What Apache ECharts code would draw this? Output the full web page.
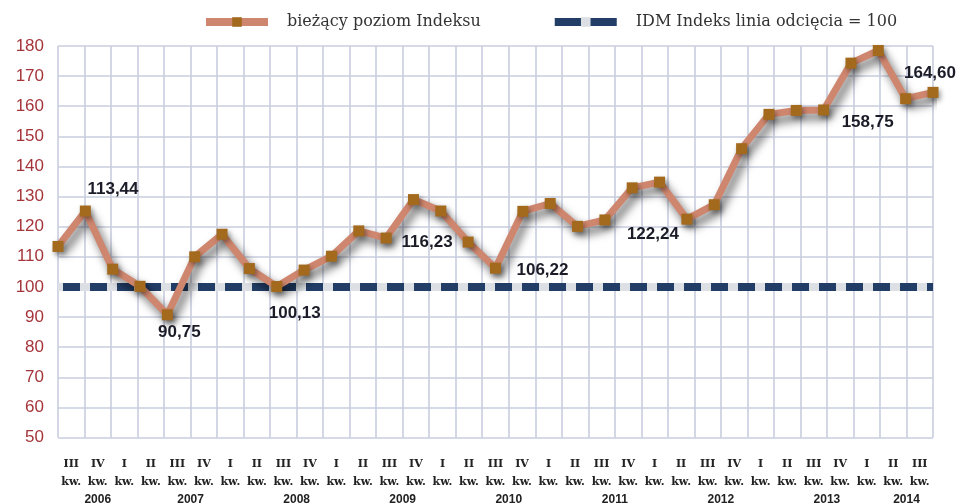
<!DOCTYPE html>
<html>
<head>
<meta charset="utf-8">
<script src="https://cdn.jsdelivr.net/npm/echarts@6/dist/echarts.min.js"></script>
<style>
  html, body { margin: 0; background: #fff; }
  #main { width: 960px; height: 504px; }
</style>
</head>
<body>
<div id="main"></div>
<script>
// kwartały (oś X)
const quarters = ['III','IV',
  'I','II','III','IV', 'I','II','III','IV', 'I','II','III','IV', 'I','II','III','IV',
  'I','II','III','IV', 'I','II','III','IV', 'I','II','III','IV',
  'I','II','III'];
const years = ['2006','2006',
  '2007','2007','2007','2007', '2008','2008','2008','2008', '2009','2009','2009','2009',
  '2010','2010','2010','2010', '2011','2011','2011','2011', '2012','2012','2012','2012',
  '2013','2013','2013','2013', '2014','2014','2014'];
// wartości indeksu
const indexValues = [113.44, 125.2, 105.9, 100.2, 90.75, 110.0, 117.5, 106.1, 100.13, 105.6,
  110.2, 118.6, 116.23, 129.0, 125.2, 114.9, 106.22, 125.1, 127.7, 120.1, 122.24, 132.9,
  134.8, 122.5, 127.3, 145.9, 157.3, 158.6, 158.75, 174.3, 178.5, 162.5, 164.60];
const cutoff = 100;
const seriesNames = ['bieżący poziom Indeksu', 'IDM Indeks linia odcięcia = 100'];
const yMin = 50, yMax = 180, yStep = 10;

// przesunięcia etykiet wartości (kolejne III kwartały)
const annotOffsets = [[55, -57], [12, 18], [18, 27], [41, 4], [47, 2], [48, 14], [0, 0], [44, 12], [-3, -19]];

// gdzie wypisać rok pod osią
const yearAt = {};
(function () {
  const groups = {};
  years.forEach((y, i) => { (groups[y] = groups[y] || []).push(i); });
  for (const y in groups) {
    const idx = groups[y];
    if (quarters[idx[0]] !== 'I') yearAt[idx[idx.length - 1]] = { year: y, shift: false };
    else yearAt[idx[idx.length - 2]] = { year: y, shift: true };
  }
})();

const categories = quarters.map((q, i) => q + ' kw. ' + years[i]);

let annotCount = 0;
const lineData = indexValues.map((v, i) => {
  if (quarters[i] !== 'III') return v;
  const off = annotOffsets[annotCount++] || [0, 0];
  if (i === 24) return v; // 2012 bez etykiety
  return {
    value: v,
    label: {
      show: true,
      position: 'inside',
      offset: off,
      formatter: p => p.value.toFixed(2).replace('.', ','),
      color: '#1c1c28',
      fontFamily: 'Liberation Sans',
      fontWeight: 'bold',
      fontSize: 17
    }
  };
});

const chart = echarts.init(document.getElementById('main'));

const gridColor = '#c9cedf';

const option = {
  backgroundColor: '#fff',
  animation: false,
  legend: {
    top: 14,
    left: 202,
    padding: 0,
    itemWidth: 62,
    itemHeight: 12,
    itemGap: 70,
    textStyle: { fontFamily: 'DejaVu Serif', fontSize: 16, color: '#333', padding: [0, 0, 0, 14] },
    data: [
      { name: seriesNames[0], lineStyle: { width: 8 } },
      { name: seriesNames[1], lineStyle: { width: 8 } }
    ]
  },
  grid: { left: 58, right: 27, top: 46, bottom: 66.5, outerBoundsMode: 'none' },
  xAxis: [
    {
      // punkty danych
      type: 'category',
      data: categories,
      boundaryGap: false,
      axisLine: { show: false },
      axisTick: { show: false },
      splitLine: { show: false },
      axisLabel: { show: false }
    },
    {
      // etykiety kwartałów i pionowa siatka
      type: 'category',
      position: 'bottom',
      data: categories,
      boundaryGap: true,
      axisLine: { show: false },
      axisTick: { show: false },
      splitLine: { show: true, interval: 0, lineStyle: { color: gridColor, width: 1.6 } },
      axisLabel: {
        interval: 0,
        margin: 17,
        formatter: (val, i) => {
          let s = '{q|' + quarters[i] + '}\n{k|kw.}';
          const y = yearAt[i];
          if (y) s += '\n{' + (y.shift ? 'ys' : 'y') + '|' + y.year + '}';
          return s;
        },
        rich: {
          q: { fontFamily: 'DejaVu Serif', fontWeight: 'bold', fontSize: 11, color: '#222', lineHeight: 19 },
          k: { fontFamily: 'DejaVu Serif', fontWeight: 'bold', fontSize: 11, color: '#222', lineHeight: 18 },
          y: { fontFamily: 'Liberation Sans', fontWeight: 'bold', fontSize: 12, color: '#222', lineHeight: 17 },
          ys: { fontFamily: 'Liberation Sans', fontWeight: 'bold', fontSize: 12, color: '#222', lineHeight: 17, padding: [0, 0, 0, 26.5] }
        }
      }
    }
  ],
  yAxis: {
    type: 'value',
    min: yMin,
    max: yMax,
    interval: yStep,
    axisLine: { show: false },
    axisTick: { show: false },
    axisLabel: { color: '#a5353a', fontFamily: 'Liberation Sans', fontSize: 17, margin: 14 },
    splitLine: { lineStyle: { color: gridColor, width: 1.6 } }
  },
  series: [
    {
      name: seriesNames[0],
      type: 'line',
      xAxisIndex: 0,
      z: 4,
      data: lineData,
      symbol: 'rect',
      symbolSize: 11,
      lineStyle: {
        color: '#cf866e', width: 7,
        shadowColor: 'rgba(0,0,0,0.6)', shadowBlur: 10, shadowOffsetX: 4, shadowOffsetY: 6
      },
      itemStyle: { color: '#a36a1e', shadowColor: 'rgba(0,0,0,0.4)', shadowBlur: 5, shadowOffsetX: 2, shadowOffsetY: 3 }
    },
    {
      name: seriesNames[1],
      type: 'line',
      xAxisIndex: 0,
      z: 2,
      data: [],
      symbol: 'rect',
      symbolSize: 10,
      itemStyle: { color: '#dcdfe3' },
      lineStyle: { color: '#223d66', width: 8 },
      markLine: {
        z: 1,
        silent: true,
        symbol: 'none',
        label: { show: false },
        data: [
          { yAxis: cutoff, lineStyle: { color: '#dcdfe3', type: 'solid', width: 8 } },
          { yAxis: cutoff, lineStyle: { color: '#223d66', type: [17, 10], dashOffset: 22, width: 8 } }
        ]
      }
    }
  ]
};

chart.setOption(option);
</script>
</body>
</html>
